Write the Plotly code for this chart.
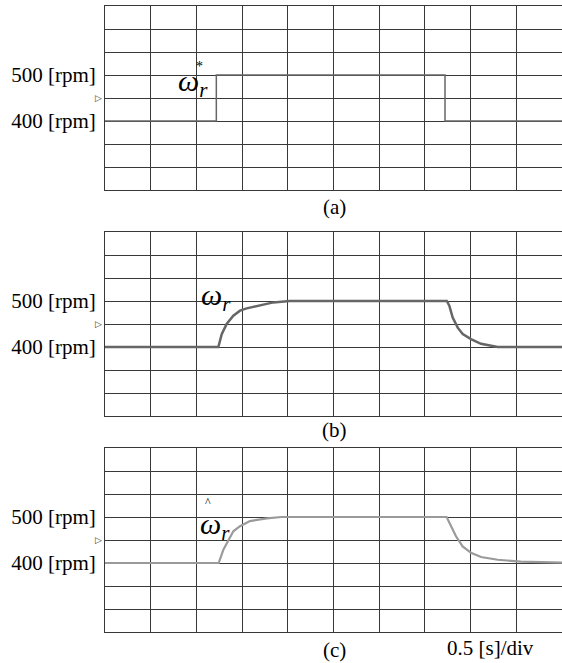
import plotly.graph_objects as go

W, H = 562, 663

# ---- data (time in s, speed in rpm) ----
t_ref = [0.0, 1.218, 1.218, 3.72, 3.72, 5.0]
w_ref = [400, 400, 500, 500, 400, 400]

t_meas = [0.0, 1.240, 1.277, 1.331, 1.404, 1.477, 1.550, 1.696, 1.842, 2.02,
          3.74, 3.767, 3.804, 3.859, 3.914, 4.004, 4.114, 4.297, 5.0]
w_meas = [400, 400, 428, 450, 468, 479, 484, 490, 497, 500,
          500, 490, 464, 442, 428, 417, 407, 400, 400]

t_est = [0.0, 1.244, 1.295, 1.35, 1.404, 1.477, 1.586, 1.77, 1.93,
         3.738, 3.786, 3.84, 3.913, 4.004, 4.114, 4.297, 4.55, 5.0]
w_est = [400, 400, 429, 451, 469, 480, 491, 497, 500,
         500, 481, 458, 436, 422, 413, 407, 403, 401]

y_ticks = [400, 500]
y_text = ["400 [rpm]", "500 [rpm]"]
captions = ["(a)", "(b)", "(c)"]

SERIF = "Liberation Serif"
GRID = "#383838"


def px(x):
    return x / W


def py(y):
    return 1 - y / H


panels = [(6, 190), (232, 416), (448, 632)]

fig = go.Figure()
series = [(t_ref, w_ref, "#666666", 1.5),
          (t_meas, w_meas, "#666666", 2.5),
          (t_est, w_est, "#9a9a9a", 2.2)]
for i, (tx, wy, col, lw) in enumerate(series):
    sfx = "" if i == 0 else str(i + 1)
    fig.add_trace(go.Scatter(x=tx, y=wy, mode="lines",
                             line=dict(color=col, width=lw),
                             xaxis="x" + sfx, yaxis="y" + sfx,
                             showlegend=False, hoverinfo="skip"))

layout = dict(width=W, height=H, margin=dict(l=0, r=0, t=0, b=0),
              paper_bgcolor="white", plot_bgcolor="white", showlegend=False)

for i, (top, bot) in enumerate(panels):
    sfx = "" if i == 0 else str(i + 1)
    layout["xaxis" + sfx] = dict(
        domain=[px(105), 1.0], range=[0, 5], tick0=0, dtick=0.5,
        showgrid=True, gridcolor=GRID, gridwidth=1,
        showticklabels=False, ticks="", zeroline=False,
        showline=True, mirror=True, linecolor=GRID, linewidth=1,
        anchor="y" + sfx, automargin=False, fixedrange=True)
    layout["yaxis" + sfx] = dict(
        domain=[py(bot), py(top)], range=[250, 650],
        tickmode="array", tickvals=y_ticks, ticktext=y_text,
        tickfont=dict(family=SERIF, size=21, color="black"),
        showgrid=True, gridcolor=GRID, gridwidth=1,
        minor=dict(tick0=250, dtick=50, showgrid=True, gridcolor=GRID,
                   gridwidth=1, ticks=""),
        ticks="", zeroline=False, ticklabelstandoff=4,
        showline=True, mirror=True, linecolor=GRID, linewidth=1,
        anchor="x" + sfx, automargin=False, fixedrange=True)

fig.update_layout(**layout)

ann = []
cap_y = [207, 430, 650]
for i, c in enumerate(captions):
    ann.append(dict(text=c, x=px(334), y=py(cap_y[i]), xref="paper", yref="paper",
                    showarrow=False, xanchor="center", yanchor="middle",
                    font=dict(family=SERIF, size=21, color="black")))
ann.append(dict(text="0.5 [s]/div", x=px(490), y=py(648), xref="paper", yref="paper",
                showarrow=False, xanchor="center", yanchor="middle",
                font=dict(family=SERIF, size=21, color="black")))

# centre markers
for i in range(3):
    sfx = "" if i == 0 else str(i + 1)
    ann.append(dict(text="▷", x=px(98.5), y=450, xref="paper", yref="y" + sfx,
                    showarrow=False, xanchor="center", yanchor="middle",
                    font=dict(family="DejaVu Sans", size=9, color="#333")))


def lab(t, x, y, size, anchor="center"):
    ann.append(dict(text=t, x=px(x), y=py(y), xref="paper", yref="paper",
                    showarrow=False, xanchor=anchor, yanchor="middle",
                    font=dict(family=SERIF, size=size, color="black")))


# omega labels (omega with subscript r in one text)
OMR = "<i>ω</i><sub><i>r</i></sub>"
lab(OMR, 176, 83, 30, "left")
lab("*", 199, 67, 14)
lab(OMR, 199, 297, 30, "left")
lab(OMR, 198, 526, 30, "left")
lab("^", 208, 502, 12)

fig.update_layout(annotations=ann)
fig.write_html("out.html")
